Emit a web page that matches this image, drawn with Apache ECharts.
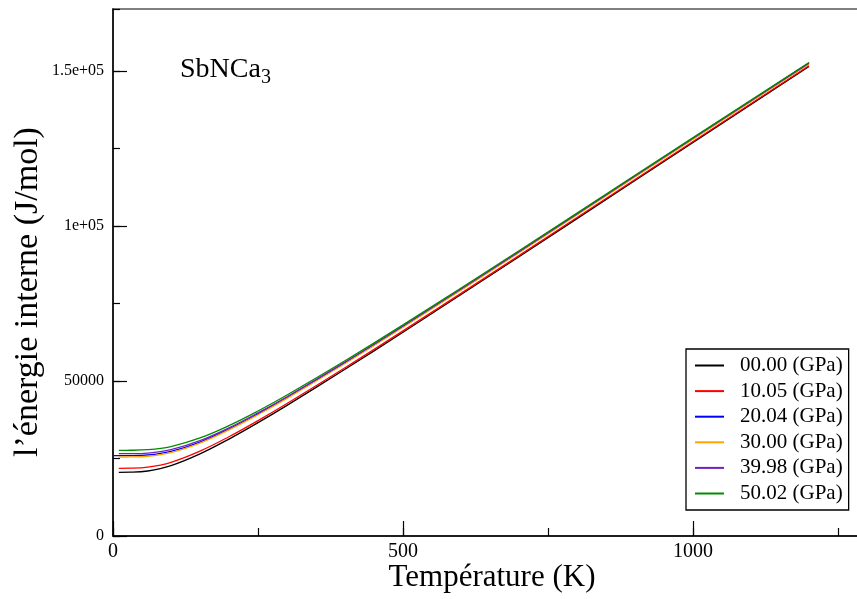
<!DOCTYPE html>
<html>
<head>
<meta charset="utf-8">
<script src="https://cdn.jsdelivr.net/npm/echarts@6/dist/echarts.min.js"></script>
<style>
  html, body { margin: 0; padding: 0; background: #fff; }
  #chart { width: 857px; height: 599px; }
</style>
</head>
<body>
<div id="chart"></div>
<script>
// Internal energy of SbNCa3 versus temperature at several pressures
const temperatures = [10, 30, 60, 100, 150, 200, 250, 300, 400, 500, 700, 900, 1200];
const temperaturesBlue = [0, 10, 30, 60, 100, 150, 200, 250, 300, 400, 500, 700, 900, 1200];

const pressureLabels = ['00.00 (GPa)', '10.05 (GPa)', '20.04 (GPa)', '30.00 (GPa)', '39.98 (GPa)', '50.02 (GPa)'];

const u_00_00 = [20548, 20576, 20963, 22707, 26489, 31272, 36562, 42149, 53778, 65737, 90080, 114685, 151504];
const u_10_05 = [21839, 21863, 22201, 23788, 27383, 32024, 37221, 42732, 54271, 66174, 90449, 115017, 151697];
const u_20_04 = [25903, 25903, 25918, 26131, 27302, 30310, 34512, 39377, 44642, 55856, 67546, 91574, 116002, 152459];
const u_30_00 = [25484, 25499, 25720, 26919, 29982, 34220, 39104, 44391, 55636, 67340, 91393, 115834, 152302];
const u_39_98 = [26548, 26562, 26760, 27874, 30762, 34900, 39716, 44931, 56082, 67736, 91711, 116115, 152551];
const u_50_02 = [27645, 27657, 27834, 28850, 31622, 35611, 40315, 45467, 56516, 68098, 92005, 116361, 152757];

const xTickLabels = { 0: '0', 500: '500', 1000: '1000' };
const yTickLabels = { 0: '0', 50000: '50000', 100000: '1e+05', 150000: '1.5e+05' };

const colors = ['#000000', '#ff0000', '#0000ff', '#ffa500', '#7221bc', '#008b00'];
const seriesValues = [u_00_00, u_10_05, u_20_04, u_30_00, u_39_98, u_50_02];
const seriesTemps = [temperatures, temperatures, temperaturesBlue, temperatures, temperatures, temperatures];

const FONT = '"Liberation Serif", "DejaVu Serif", serif';

const chart = echarts.init(document.getElementById('chart'), null, { renderer: 'canvas' });

const series = seriesValues.map((vals, i) => ({
  name: pressureLabels[i],
  type: 'line',
  xAxisIndex: 0,
  yAxisIndex: 0,
  data: vals.map((v, k) => [seriesTemps[i][k], v]),
  showSymbol: false,
  symbol: 'none',
  smooth: 0.4,
  lineStyle: { color: colors[i], width: 1.3 },
  itemStyle: { color: colors[i] },
  z: 2 + i,
  animation: false
}));

const option = {
  animation: false,
  backgroundColor: '#fff',
  grid: {
    left: 113, top: 9, width: 754, height: 527,
    outerBoundsMode: 'none', containLabel: false,
    show: true, borderColor: '#555', borderWidth: 1.5, backgroundColor: 'transparent'
  },
  xAxis: [
    {
      type: 'value', position: 'bottom', min: 0, max: 1300, interval: 500,
      axisLine: { onZero: false, lineStyle: { color: '#000', width: 1.5 } },
      axisTick: { inside: true, length: 15, lineStyle: { color: '#000', width: 1.2 } },
      axisLabel: {
        fontFamily: FONT, fontSize: 20, color: '#000', margin: 6, showMaxLabel: false,
        formatter: v => (xTickLabels[v] !== undefined ? xTickLabels[v] : '')
      },
      splitLine: { show: false }
    },
    {
      type: 'value', position: 'bottom', min: 0, max: 1300, interval: 250,
      axisLine: { show: false, onZero: false },
      axisTick: { inside: true, length: 8, lineStyle: { color: '#000', width: 1.2 } },
      axisLabel: { show: false },
      splitLine: { show: false }
    }
  ],
  yAxis: [
    {
      type: 'value', position: 'left', min: 0, max: 170000, interval: 50000,
      axisLine: { onZero: false, lineStyle: { color: '#000', width: 1.5 } },
      axisTick: { inside: true, length: 14, lineStyle: { color: '#000', width: 1.2 } },
      axisLabel: {
        fontFamily: FONT, fontSize: 16, color: '#000', margin: 9, showMaxLabel: false,
        formatter: v => (yTickLabels[v] !== undefined ? yTickLabels[v] : '')
      },
      splitLine: { show: false }
    },
    {
      type: 'value', position: 'left', min: 0, max: 170000, interval: 25000,
      axisLine: { show: false, onZero: false },
      axisTick: { inside: true, length: 7, lineStyle: { color: '#000', width: 1.2 } },
      axisLabel: { show: false },
      splitLine: { show: false }
    }
  ],
  legend: {
    orient: 'vertical',
    left: 686, top: 349,
    data: pressureLabels,
    icon: 'rect',
    itemWidth: 29, itemHeight: 2,
    itemGap: 4.6,
    padding: [6, 6, 6, 9],
    borderColor: '#000', borderWidth: 1.3,
    backgroundColor: '#fff',
    textStyle: { fontFamily: FONT, fontSize: 21, color: '#000', lineHeight: 20, padding: [0, 0, 0, 11] }
  },
  graphic: [
    {
      type: 'text', left: 180, top: 56,
      style: {
        text: '{m|SbNCa}{s|3}',
        rich: {
          m: { fontFamily: FONT, fontSize: 28, fill: '#000' },
          s: { fontFamily: FONT, fontSize: 20, fill: '#000', padding: [16, 0, 0, 0] }
        }
      }
    },
    {
      type: 'text', x: 492, y: 578,
      style: {
        text: 'Température (K)', fontFamily: FONT, fontSize: 31, fill: '#000',
        align: 'center', verticalAlign: 'middle'
      }
    },
    {
      type: 'text', x: 28, y: 292, rotation: Math.PI / 2,
      style: {
        text: 'l’énergie interne (J/mol)', fontFamily: FONT, fontSize: 34, fill: '#000',
        align: 'center', verticalAlign: 'middle'
      }
    }
  ],
  series: series
};

chart.setOption(option);
</script>
</body>
</html>
